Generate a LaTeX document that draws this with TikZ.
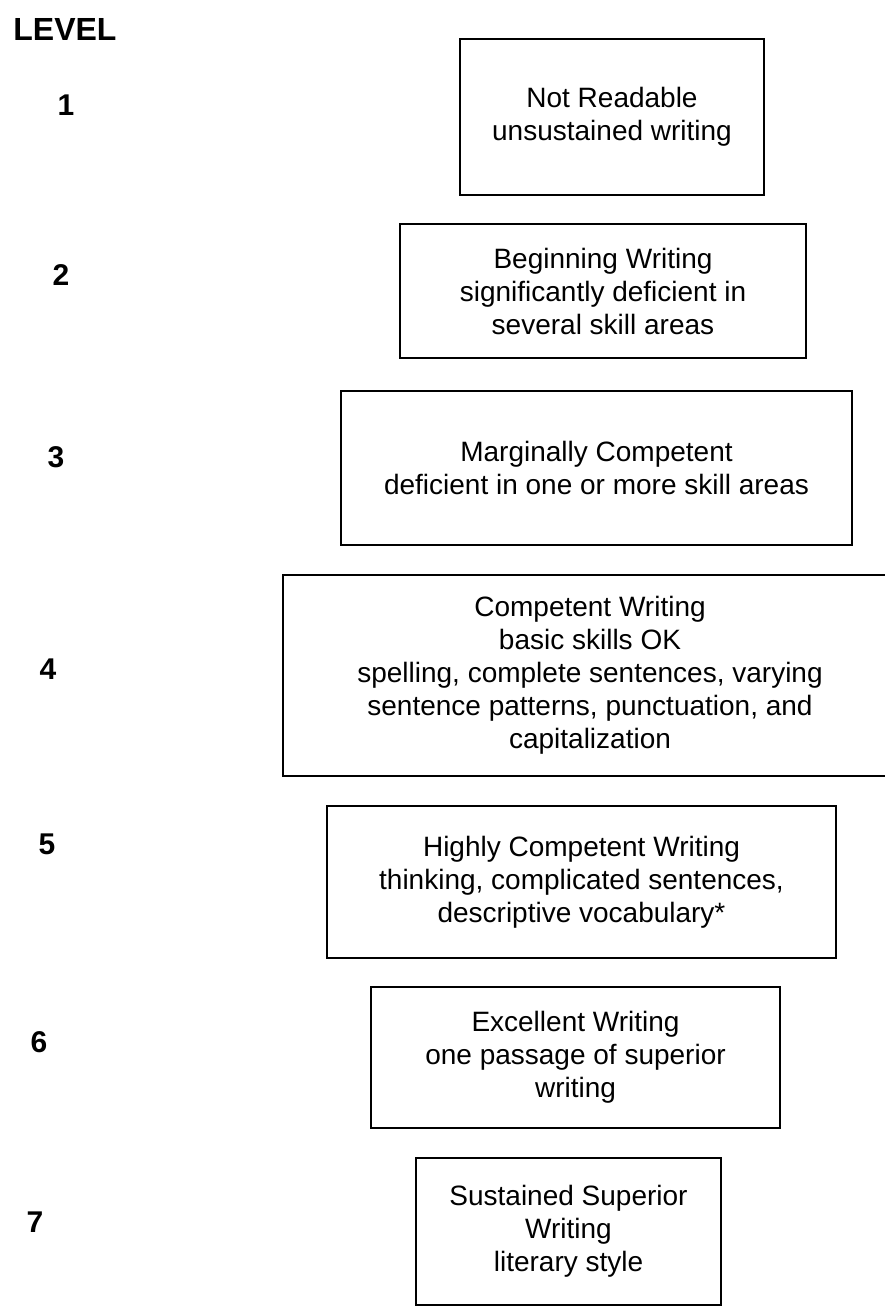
\documentclass[tikz,border=0pt]{standalone}
\usepackage{fontspec}
\setmainfont{Liberation Sans}

\begin{document}
\begin{tikzpicture}[x=0.5pt, y=-0.5pt,
levelbox/.style={rectangle, draw=black, line width=0.8pt, align=center, font=\fontsize{14}{16.5}\selectfont},
levelnum/.style={inner sep=0pt, font=\fontsize{15}{18}\selectfont\bfseries},
]
\useasboundingbox (0,0) rectangle (884,1310);

%Level numbers
\node[levelnum, anchor=west, font=\fontsize{16}{19}\selectfont\bfseries] (Level) at (13,29) {LEVEL};
\node[levelnum] (N1) at (66,105) {1};
\node[levelnum] (N2) at (61,275) {2};
\node[levelnum] (N3) at (56,457) {3};
\node[levelnum] (N4) at (48,669) {4};
\node[levelnum] (N5) at (47,844) {5};
\node[levelnum] (N6) at (39,1042) {6};
\node[levelnum] (N7) at (35,1222) {7};

%Boxes
\node[levelbox, minimum width=152pt, minimum height=78pt]     (B1) at (612,117)    {Not Readable\\unsustained writing};
\node[levelbox, minimum width=203pt, minimum height=67pt]     (B2) at (603,291)    {Beginning Writing\\significantly deficient in\\several skill areas};
\node[levelbox, minimum width=255.5pt, minimum height=77pt]   (B3) at (596.5,468)  {Marginally Competent\\deficient in one or more skill areas};
\node[levelbox, minimum width=307pt, minimum height=100.5pt]  (B4) at (590,675.5)  {Competent Writing\\basic skills OK\\spelling, complete sentences, varying\\sentence patterns, punctuation, and\\capitalization};
\node[levelbox, minimum width=254.5pt, minimum height=76pt]   (B5) at (581.5,882)  {Highly Competent Writing\\thinking, complicated sentences,\\descriptive vocabulary*};
\node[levelbox, minimum width=204.5pt, minimum height=70.5pt] (B6) at (575.5,1057.5) {Excellent Writing\\one passage of superior\\writing};
\node[levelbox, minimum width=152.5pt, minimum height=73.5pt] (B7) at (568.5,1231.5) {Sustained Superior\\Writing\\literary style};
\end{tikzpicture}
\end{document}
